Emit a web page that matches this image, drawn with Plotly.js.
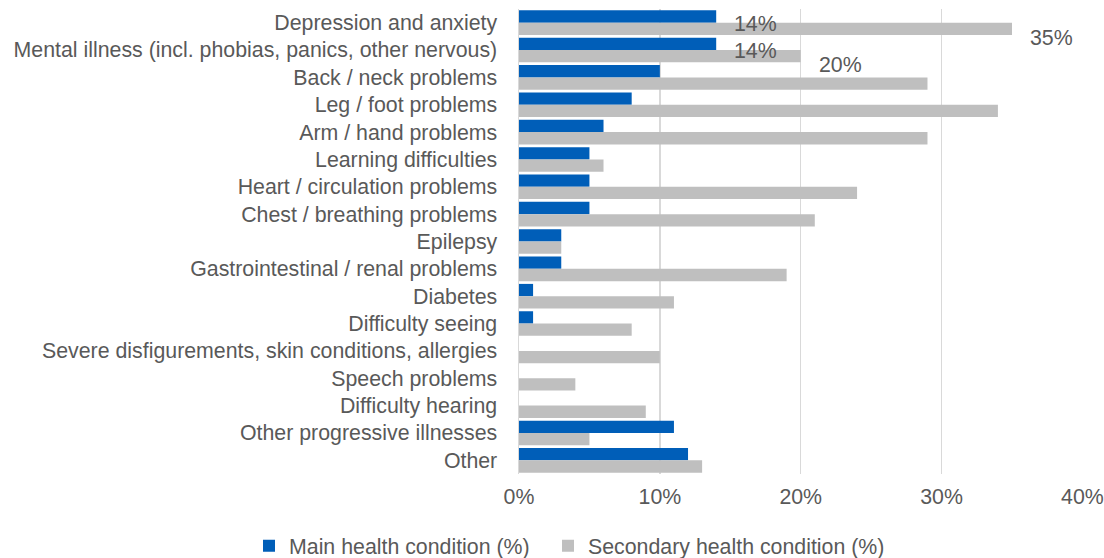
<!DOCTYPE html>
<html>
<head>
<meta charset="utf-8">
<script src="https://cdn.plot.ly/plotly-3.0.1.min.js"></script>
<style>html,body{margin:0;padding:0;background:#fff;}#chart{width:1104px;height:558px;}</style>
</head>
<body>
<div id="chart"></div>
<script>
const categories = [
  "Depression and anxiety",
  "Mental illness (incl. phobias, panics, other nervous)",
  "Back / neck problems",
  "Leg / foot problems",
  "Arm / hand problems",
  "Learning difficulties",
  "Heart / circulation problems",
  "Chest / breathing problems",
  "Epilepsy",
  "Gastrointestinal / renal problems",
  "Diabetes",
  "Difficulty seeing",
  "Severe disfigurements, skin conditions, allergies",
  "Speech problems",
  "Difficulty hearing",
  "Other progressive illnesses",
  "Other"
];
const mainValues = [14, 14, 10, 8, 6, 5, 5, 5, 3, 3, 1, 1, 0, 0, 0, 11, 12];
const secondaryValues = [35, 20, 29, 34, 29, 6, 24, 21, 3, 19, 11, 8, 10, 4, 9, 5, 13];
const seriesNames = ["Main health condition (%)", "Secondary health condition (%)"];
const labelledCategories = ["Depression and anxiety", "Mental illness (incl. phobias, panics, other nervous)"];
const xTickValues = [0, 10, 20, 30, 40];
const xTickLabels = ["0%", "10%", "20%", "30%", "40%"];

const FONT = "Liberation Sans, Arial, sans-serif";
const FS = 21.33;
const TXT = "#595959";
const BLUE = "#005EB8";
const GREY = "#BFBFBF";

const traces = [
  {type: "bar", orientation: "h", name: seriesNames[0], y: categories, x: mainValues,
   marker: {color: BLUE}, hoverinfo: "x+y", legend: "legend"},
  {type: "bar", orientation: "h", name: seriesNames[1], y: categories, x: secondaryValues,
   marker: {color: GREY}, hoverinfo: "x+y", legend: "legend2"}
];

const annotations = [];
labelledCategories.forEach(c => {
  const i = categories.indexOf(c);
  annotations.push({x: mainValues[i], y: c, xref: "x", yref: "y", text: mainValues[i] + "%",
    showarrow: false, xanchor: "left", yanchor: "middle", xshift: 16, yshift: -1,
    font: {family: FONT, size: FS, color: TXT}});
  annotations.push({x: secondaryValues[i], y: c, xref: "x", yref: "y", text: secondaryValues[i] + "%",
    showarrow: false, xanchor: "left", yanchor: "middle", xshift: 16, yshift: -15,
    font: {family: FONT, size: FS, color: TXT}});
});

function legendAt(xpx) {
  return {orientation: "h", xref: "container", yref: "container", x: xpx / 1104, xanchor: "left",
          y: 1 - 546 / 558, yanchor: "middle", bgcolor: "rgba(0,0,0,0)",
          font: {family: FONT, size: FS, color: TXT}, itemwidth: 30};
}

const layout = {
  width: 1104, height: 558,
  paper_bgcolor: "#ffffff", plot_bgcolor: "#ffffff",
  margin: {l: 519, r: 21, t: 9, b: 84, pad: 0, autoexpand: false},
  font: {family: FONT, size: FS, color: TXT},
  barmode: "group", bargap: 0.1, bargroupgap: 0,
  showlegend: true,
  legend: legendAt(249),
  legend2: legendAt(548),
  xaxis: {range: [0, 40.04], tickvals: xTickValues, ticktext: xTickLabels, showgrid: true,
          gridcolor: "#D9D9D9", gridwidth: 1.5, zeroline: false, showline: false,
          ticks: "", ticklabeloverflow: "allow", ticklabelstandoff: 8,
          tickfont: {family: FONT, size: FS, color: TXT}, fixedrange: true, automargin: false},
  yaxis: {range: [categories.length - 0.5, -0.5], autorange: false, type: "category",
          showgrid: false, zeroline: false,
          showline: true, linecolor: "#D9D9D9", linewidth: 1.5, ticks: "",
          ticklabelstandoff: 16, tickfont: {family: FONT, size: FS, color: TXT},
          fixedrange: true, automargin: false},
  annotations: annotations
};

Plotly.newPlot("chart", traces, layout, {displayModeBar: false, staticPlot: true});
</script>
</body>
</html>
